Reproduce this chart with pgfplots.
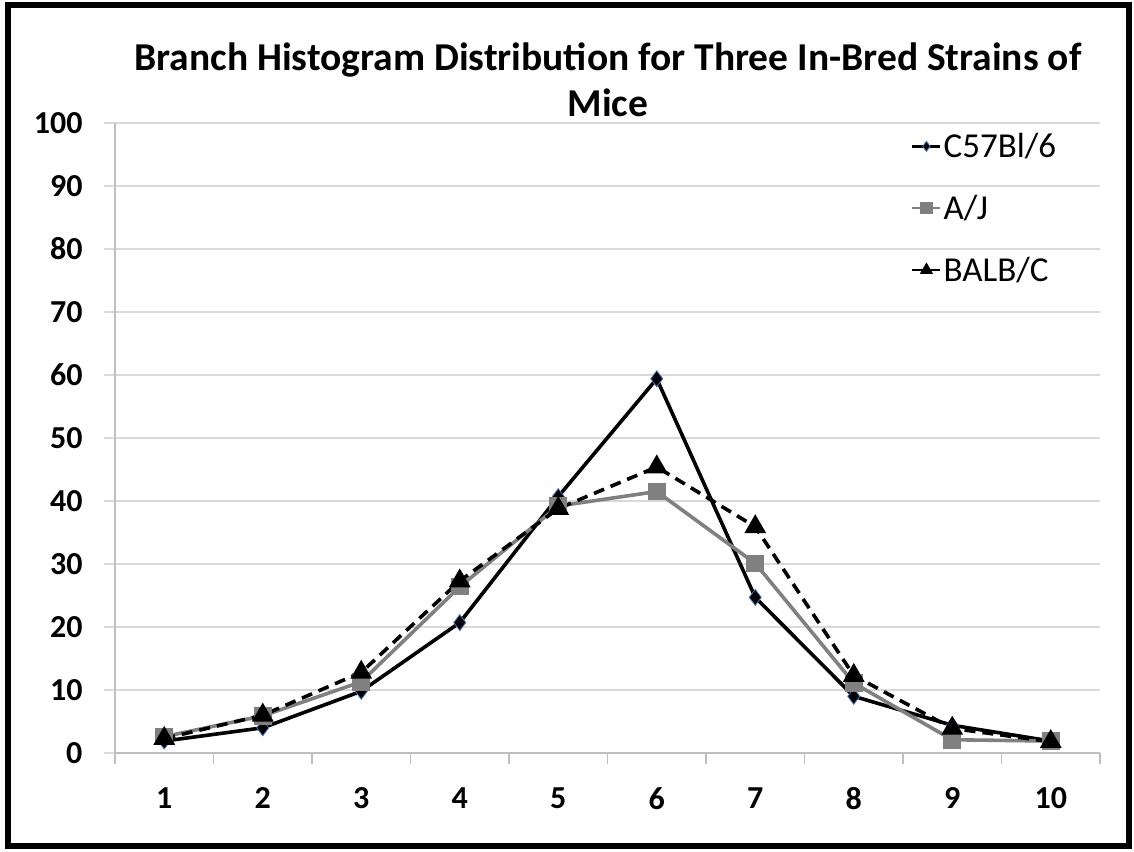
\documentclass[border=0pt]{standalone}
\usepackage{pgfplots}
\pgfplotsset{compat=1.18}
\usepackage{fontspec}
\setmainfont{Carlito}
\definecolor{gridgray}{RGB}{217,217,217}
\definecolor{axgray}{RGB}{191,191,191}
\definecolor{ajgray}{RGB}{128,128,128}
\definecolor{edgeblue}{RGB}{68,114,196}
\begin{document}
\begin{tikzpicture}
\path[use as bounding box] (0pt,0pt) rectangle (1134pt,851pt);
\begin{axis}[
  at={(115pt,98pt)}, anchor=south west,
  scale only axis, width=985pt, height=630pt,
  xmin=0.5, xmax=10.5, ymin=0, ymax=100,
  xtick={1,...,10},
  minor xtick={0.5,1.5,...,10.5},
  ytick={0,10,...,100},
  ymajorgrids, major grid style={gridgray, line width=1.2pt},
  axis x line*=bottom, axis y line*=left,
  axis line style={axgray, line width=1.2pt},
  tick align=outside,
  major x tick style={draw=none},
  minor x tick style={axgray, line width=1.2pt},
  minor tick length=11pt,
  major y tick style={gridgray, line width=1.2pt},
  major tick length=11pt,
  /pgf/number format/assume math mode=true,
  ticklabel style={font=\fontsize{32}{36}\selectfont\bfseries},
  xticklabel style={yshift=-20pt},
  yticklabel style={xshift=-18pt},
  legend style={draw=none, fill=none, at={(0.805,0.99)}, anchor=north west,
    font=\fontsize{35}{40}\selectfont, row sep=32pt,
    legend cell align=left,
    /tikz/every even column/.append style={column sep=2pt}},
  legend image post style={mark size=5pt, line width=2.6pt},
  legend image code/.code={\draw[mark repeat=2,mark phase=2,#1] plot coordinates {(0pt,0pt) (14pt,0pt) (28pt,0pt)};},
]
\addplot[black, line width=3.6pt, mark=diamond*, mark size=8pt,
  mark options={solid, fill=black, draw=edgeblue, line width=0.8pt}]
  coordinates {(1,1.9) (2,4.0) (3,9.8) (4,20.7) (5,40.7) (6,59.4) (7,24.7) (8,9.0) (9,4.4) (10,1.9)};
\addlegendentry{C57Bl/6}
\addplot[ajgray, line width=3.6pt, mark=square*, mark size=7pt,
  mark options={solid, fill=ajgray, draw=ajgray}]
  coordinates {(1,2.6) (2,5.9) (3,11.3) (4,26.4) (5,39.2) (6,41.5) (7,30.1) (8,11.1) (9,2.1) (10,1.9)};
\addlegendentry{A/J}
\addplot[black, line width=3.6pt, dash pattern=on 11pt off 7pt, mark=triangle*, mark size=9pt,
  mark options={solid, fill=black}]
  coordinates {(1,2.3) (2,6.0) (3,12.8) (4,27.3) (5,38.8) (6,45.4) (7,35.9) (8,12.3) (9,3.9) (10,1.8)};
\addlegendentry{BALB/C}
\end{axis}
\node[align=center, font=\fontsize{39.5}{46}\selectfont\bfseries] at (608pt,771pt)
  {Branch Histogram Distribution for Three In-Bred Strains of\\Mice};
\draw[line width=6pt] (8pt,5pt) rectangle (1129pt,846pt);
\end{tikzpicture}
\end{document}
